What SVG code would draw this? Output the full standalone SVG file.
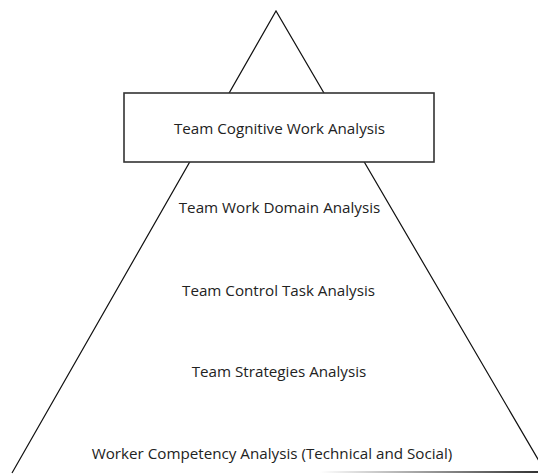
<svg xmlns="http://www.w3.org/2000/svg" width="538" height="474" viewBox="0 0 538 474">
<defs>
<linearGradient id="baseFade" gradientUnits="userSpaceOnUse" x1="320" y1="0" x2="538" y2="0">
<stop offset="0" stop-color="#ffffff"/>
<stop offset="1" stop-color="#333333"/>
</linearGradient>
</defs>
<style>
.lbl{font-family:"Open Sans","Noto Sans",sans-serif;font-size:15.2px;fill:#222;text-anchor:middle}
.edge{fill:none;stroke:#111;stroke-width:1.2}
</style>
<rect width="538" height="474" fill="#fff"/>
<g id="connectors">
<polyline class="edge" points="12,473 276,11 546,473"/>
<line x1="320" y1="472" x2="538" y2="472" stroke="url(#baseFade)" stroke-width="2"/>
</g>
<g id="team-cwa">
<rect x="124" y="93" width="310" height="69" fill="#fff" stroke="#333" stroke-width="1.6"/>
<text class="lbl" x="279.5" y="134">Team Cognitive Work Analysis</text>
</g>
<g id="work-domain">
<text class="lbl" x="279.5" y="213">Team Work Domain Analysis</text>
</g>
<g id="control-task">
<text class="lbl" x="278.5" y="296">Team Control Task Analysis</text>
</g>
<g id="strategies">
<text class="lbl" x="279" y="377">Team Strategies Analysis</text>
</g>
<g id="worker-competency">
<text class="lbl" x="272" y="459">Worker Competency Analysis (Technical and Social)</text>
</g>
</svg>
